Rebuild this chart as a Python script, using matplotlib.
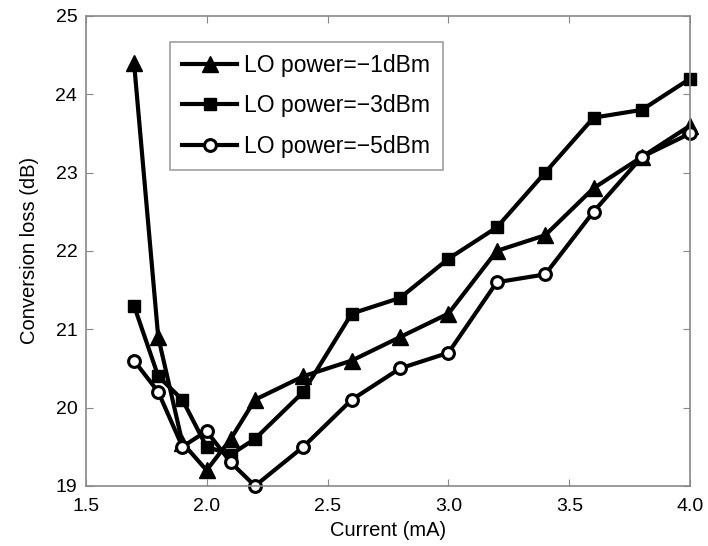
import matplotlib
matplotlib.use('Agg')
import matplotlib.pyplot as plt

plt.rcParams['font.family'] = ['Liberation Sans', 'DejaVu Sans']

# bias current (mA)
current = [1.7, 1.8, 1.9, 2.0, 2.1, 2.2, 2.4, 2.6, 2.8, 3.0, 3.2, 3.4, 3.6, 3.8, 4.0]

# conversion loss (dB) at each LO drive level
loss_m1 = [24.4, 20.9, 19.55, 19.2, 19.6, 20.1, 20.4, 20.6, 20.9, 21.2, 22.0, 22.2, 22.8, 23.2, 23.6]
loss_m3 = [21.3, 20.4, 20.1, 19.5, 19.4, 19.6, 20.2, 21.2, 21.4, 21.9, 22.3, 23.0, 23.7, 23.8, 24.2]
loss_m5 = [20.6, 20.2, 19.5, 19.7, 19.3, 19.0, 19.5, 20.1, 20.5, 20.7, 21.6, 21.7, 22.5, 23.2, 23.5]

labels = ['LO power=\u22121dBm', 'LO power=\u22123dBm', 'LO power=\u22125dBm']

fig = plt.figure(figsize=(7.08, 5.46), dpi=100)
ax = fig.add_axes([0.121, 0.110, 0.854, 0.861])

ax.plot(current, loss_m1, '-^', color='black', lw=3, ms=12,
        mfc='black', mec='black', label=labels[0], clip_on=False)
ax.plot(current, loss_m3, '-s', color='black', lw=3, ms=9,
        mfc='black', mec='black', label=labels[1], clip_on=False)
ax.plot(current, loss_m5, '-o', color='black', lw=3, ms=8.5,
        mfc='white', mec='black', mew=2.2, label=labels[2], clip_on=False)

ax.set_xlim(1.5, 4.0)
ax.set_ylim(19, 25)
ax.set_xticks([1.5, 2.0, 2.5, 3.0, 3.5, 4.0])
ax.set_xticklabels(['1.5', '2.0', '2.5', '3.0', '3.5', '4.0'])
ax.set_yticks([19, 20, 21, 22, 23, 24, 25])

ax.tick_params(direction='in', top=True, right=True, length=5,
               color='#888888', labelsize=14)
ax.tick_params(axis='x', pad=9)
ax.tick_params(axis='y', pad=6)
for s in ax.spines.values():
    s.set_color('#888888')
    s.set_linewidth(1.2)

ax.set_xlabel('Current (mA)', fontsize=14.5, labelpad=4)
ax.set_ylabel('Conversion loss (dB)', fontsize=14.5, labelpad=12)

leg = ax.legend(loc='upper left', bbox_to_anchor=(0.139, 0.945), fontsize=16.5,
                frameon=True, fancybox=False, edgecolor='#888888',
                handlelength=2.4, labelspacing=0.75, borderpad=0.55,
                handletextpad=0.3, borderaxespad=0)
leg.get_frame().set_linewidth(1.2)

fig.savefig('out.png', dpi=100)
